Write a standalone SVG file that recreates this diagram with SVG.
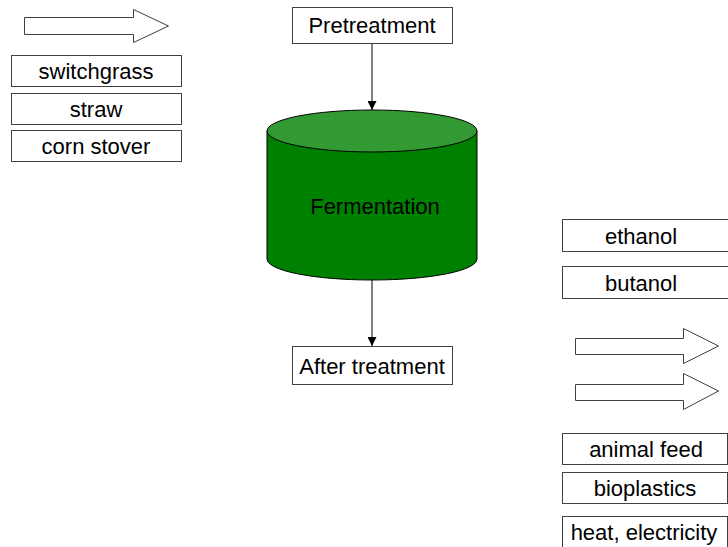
<svg xmlns="http://www.w3.org/2000/svg" width="728" height="547" viewBox="0 0 728 547">
<defs>
<style>
.box{fill:#fff;stroke:#404040;stroke-width:1}
.arr{fill:#fff;stroke:#404040;stroke-width:1}
.t{font-family:"Liberation Sans",Arial,sans-serif;font-size:22px;fill:#000;text-anchor:middle}
.line{stroke:#000;stroke-width:1;fill:none}
</style>
<marker id="ah" viewBox="0 0 10 10" refX="10" refY="5" markerWidth="9" markerHeight="9" markerUnits="userSpaceOnUse" orient="auto">
<path d="M0,0 L10,5 L0,10 z" fill="#000"/>
</marker>
</defs>
<g id="arrow-in">
<polygon class="arr" points="24.5,17.5 133.5,17.5 133.5,9.5 168.5,26 133.5,42.5 133.5,34.5 24.5,34.5"/>
</g>
<g id="switchgrass"><rect class="box" x="11.5" y="55.5" width="170" height="31"/><text class="t" x="96" y="79">switchgrass</text></g>
<g id="straw"><rect class="box" x="11.5" y="93.5" width="170" height="31"/><text class="t" x="96" y="117">straw</text></g>
<g id="corn-stover"><rect class="box" x="11.5" y="130.5" width="170" height="31"/><text class="t" x="96" y="154">corn stover</text></g>
<g id="pretreatment"><rect class="box" x="292.5" y="7.5" width="160" height="36"/><text class="t" x="372" y="33">Pretreatment</text></g>
<g id="fermentation">
<path d="M267,131 L267,259 A105,21 0 0 0 477,259 L477,131 Z" fill="#008000" stroke="#000" stroke-width="1"/>
<ellipse cx="372" cy="131" rx="105" ry="21" fill="#339933" stroke="#000" stroke-width="1"/>
<text class="t" x="375" y="214">Fermentation</text>
</g>
<g id="after-treatment"><rect class="box" x="292.5" y="346.5" width="160" height="38"/><text class="t" x="372" y="374">After treatment</text></g>
<g id="ethanol"><rect class="box" x="562.5" y="219.5" width="170" height="32"/><text class="t" x="641" y="243.5">ethanol</text></g>
<g id="butanol"><rect class="box" x="562.5" y="266.5" width="170" height="32"/><text class="t" x="641" y="290.5">butanol</text></g>
<g id="arrow-out-1">
<polygon class="arr" points="575.5,338.5 683.5,338.5 683.5,328.5 718.5,346 683.5,363.5 683.5,354.5 575.5,354.5"/>
</g>
<g id="arrow-out-2">
<polygon class="arr" points="575.5,384.5 683.5,384.5 683.5,373.5 718.5,391 683.5,409.5 683.5,400.5 575.5,400.5"/>
</g>
<g id="animal-feed"><rect class="box" x="562.5" y="433.5" width="165" height="31"/><text class="t" x="646" y="457">animal feed</text></g>
<g id="bioplastics"><rect class="box" x="562.5" y="472.5" width="165" height="31"/><text class="t" x="645" y="496">bioplastics</text></g>
<g id="heat-electricity"><rect class="box" x="562.5" y="516.5" width="165" height="31"/><text class="t" x="644" y="540">heat, electricity</text></g>
<g id="connectors">
<line class="line" x1="372" y1="43.5" x2="372" y2="110" marker-end="url(#ah)"/>
<line class="line" x1="372" y1="280" x2="372" y2="346" marker-end="url(#ah)"/>
</g>
</svg>
